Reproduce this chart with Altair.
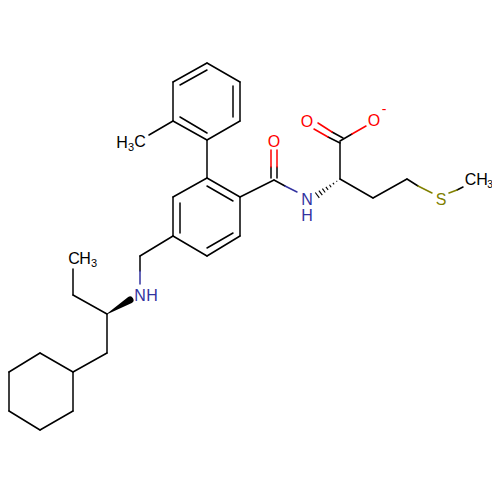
import altair as alt
import pandas as pd

BLACK = "#000000"
BLUE = "#3333a0"
RED = "#ff0000"
OLIVE = "#808000"

# Bonds: x1, y1, x2, y2, colour (in picture pixels)
black_bonds = [
    # upper ring
    (207,63,240,82),(240,82,240,121),(240,121,207,140),(207,140,173,121),(173,121,173,82),(173,82,207,63),
    (180,85,207,70),(233,86,233,117),(180,117,207,133),
    # methyl on upper ring, biaryl bond
    (173,121,149,135),(207,140,207,178),
    # lower ring
    (207,178,240,197),(240,197,240,236),(240,236,207,256),(207,256,173,236),(173,236,173,197),(173,197,207,178),
    (207,186,233,201),(233,233,207,248),(180,233,180,203),
    # benzyl CH2
    (173,236,140,256),(140,256,140,271),
    # side chain
    (107,314,73,295),(73,295,73,269),(107,314,107,353),(107,353,73,372),
    # cyclohexane
    (73,372,40,353),(40,353,9,372),(9,372,9,411),(9,411,40,430),(40,430,73,411),(73,411,73,372),
    # amide
    (240,197,274,180),(274,180,285,186),(271,178,271,167),(277,178,277,167),
    # amino acid
    (340,179,340,142),(343,138,332,132),(340,143,328,137),(340,141,352,134),
    (340,179,373,198),(373,198,407,179),(407,179,418,186),(457,190,463,187),
]
blue_bonds = [(140,271,140,284),(285,186,297,192)]
red_bonds = [
    (271,167,271,150),(277,167,277,150),
    (332,132,318,123),(328,137,314,129),(352,134,366,126),
]
olive_bonds = [(418,186,432,193),(449,193,457,190)]

# Hashed wedge strokes
hash_strokes = [
    (336.5,180.9,337.1,181.7),(332.9,182.8,334.1,184.4),(329.5,184.8,331.1,187.2),
    (325.9,186.8,328.1,189.8),(322.4,188.7,325.2,192.5),(318.9,190.6,322.3,195.2),(315.3,192.5,319.3,197.9),
]

# Solid wedge: x, y, width, order
wedge = [(107,314,0.5,0),(130,300,7,1)]

# Atom labels: text, x, y, colour, size
labels = [
    ("H",122,143,BLACK,16),("3",131,148,BLACK,11),("C",140,142,BLACK,16),
    ("C",74,259,BLACK,16),("H",85,259,BLACK,16),("3",94,264,BLACK,11),
    ("N",140,296,BLUE,16),("H",152,296,BLUE,16),
    ("O",274,142,RED,16),
    ("N",307,199.5,BLUE,16),("H",307,215.5,BLUE,16),
    ("O",307,122,RED,16),("O",374,121,RED,16),("-",384,110,RED,14),
    ("S",441,200,OLIVE,16),
    ("C",470.5,180,BLACK,16),("H",482,180,BLACK,16),("3",490,185,BLACK,10),
]

rows = []
for col, group in [(BLACK, black_bonds), (BLUE, blue_bonds), (RED, red_bonds), (OLIVE, olive_bonds)]:
    rows += [dict(x1=a, y1=b, x2=c, y2=d, color=col) for a, b, c, d in group]
bonds_df = pd.DataFrame(rows)
hash_df = pd.DataFrame(hash_strokes, columns=["x1", "y1", "x2", "y2"])
wedge_df = pd.DataFrame(wedge, columns=["x", "y", "w", "o"])
label_df = pd.DataFrame(labels, columns=["t", "x", "y", "color", "size"])

xs = alt.Scale(domain=[8, 492])
ys = alt.Scale(domain=[492, 8])
X = lambda f: alt.X(f, type="quantitative", scale=xs, axis=None)
Y = lambda f: alt.Y(f, type="quantitative", scale=ys, axis=None)

bonds = alt.Chart(bonds_df).mark_rule(strokeWidth=1.5, strokeCap="round").encode(
    x=X("x1"), y=Y("y1"), x2="x2:Q", y2="y2:Q",
    color=alt.Color("color:N", scale=None),
)
hashes = alt.Chart(hash_df).mark_rule(strokeWidth=1.1, color=BLACK).encode(
    x=X("x1"), y=Y("y1"), x2="x2:Q", y2="y2:Q",
)
solid = alt.Chart(wedge_df).mark_trail(color=BLACK).encode(
    x=X("x"), y=Y("y"), order="o:Q",
    size=alt.Size("w:Q", scale=None),
)
text = alt.Chart(label_df).mark_text(font="Liberation Sans", align="center", baseline="middle").encode(
    x=X("x"), y=Y("y"), text="t:N",
    color=alt.Color("color:N", scale=None),
    size=alt.Size("size:Q", scale=None),
)

chart = (bonds + hashes + solid + text).properties(
    width=484, height=484, padding=0,
    autosize=alt.AutoSizeParams(type="none"),
).configure_view(stroke=None)

chart.save("out.html", embed_options={"renderer": "svg", "actions": False})
